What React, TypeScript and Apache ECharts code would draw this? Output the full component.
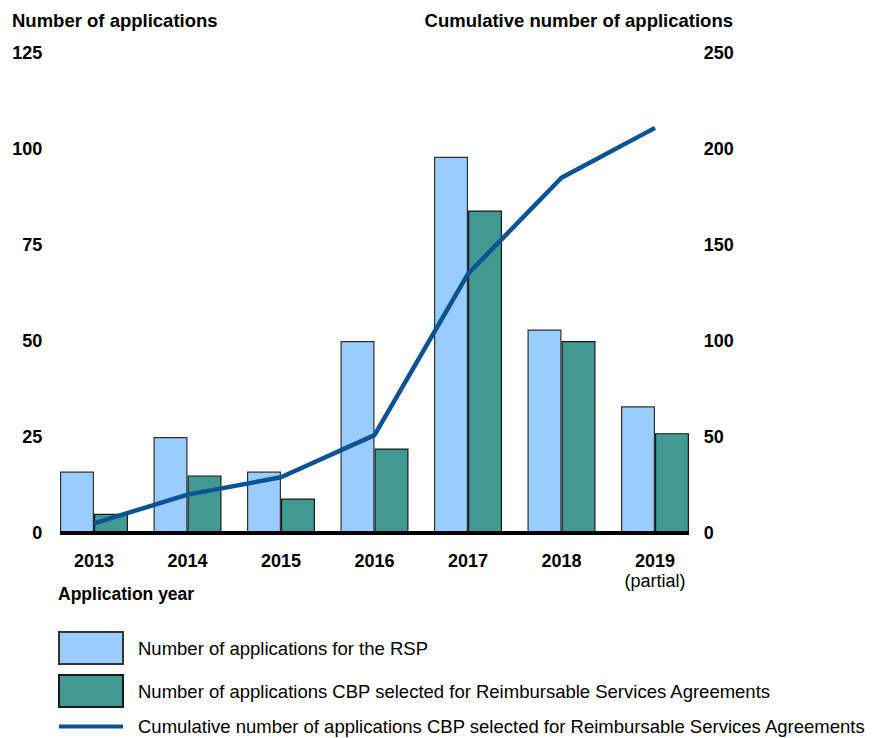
import React, { useEffect, useRef } from "react";
import * as echarts from "echarts";

const categories = ["2013", "2014", "2015", "2016", "2017", "2018", "2019"];
const rspApplications = [16, 25, 16, 50, 98, 53, 33];
const cbpSelected = [5, 15, 9, 22, 84, 50, 26];
const cumulativeSelected = [5, 20, 29, 51, 135, 185, 211];
const partialYear = "2019";

const NAME_RSP = "Number of applications for the RSP";
const NAME_CBP = "Number of applications CBP selected for Reimbursable Services Agreements";
const NAME_CUM = "Cumulative number of applications CBP selected for Reimbursable Services Agreements";

const FONT = "'Liberation Sans', Arial, Helvetica, sans-serif";
const BAR_W = 34;

export default function App() {
  const ref = useRef<HTMLDivElement>(null);

  useEffect(() => {
    if (!ref.current) return;
    const chart = echarts.init(ref.current, null, { renderer: "svg" });
    const option: any = {
      animation: false,
      backgroundColor: "#fff",
      textStyle: { fontFamily: FONT, color: "#000" },
      title: [
        {
          text: "Number of applications",
          left: 12,
          top: 11,
          padding: 0,
          textStyle: { fontFamily: FONT, fontSize: 18.5, fontWeight: "bold", color: "#000" },
        },
        {
          text: "Cumulative number of applications",
          right: 139,
          top: 11,
          padding: 0,
          textStyle: { fontFamily: FONT, fontSize: 18.5, fontWeight: "bold", color: "#000" },
        },
        {
          text: "Application year",
          left: 58,
          top: 585,
          padding: 0,
          textStyle: { fontFamily: FONT, fontSize: 17.5, fontWeight: "bold", color: "#000" },
        },
      ],
      grid: { left: 47.25, right: 170.25, top: 53, bottom: 205, containLabel: false },
      legend: {
        orient: "vertical",
        left: 58,
        top: 631,
        width: 814,
        height: 140,
        padding: 0,
        itemWidth: 64,
        itemHeight: 32,
        itemGap: 9,
        selectedMode: false,
        textStyle: { fontFamily: FONT, fontSize: 18.5, color: "#000", padding: [0, 0, 0, 10] },
        data: [
          { name: NAME_RSP, icon: "rect" },
          { name: NAME_CBP, icon: "rect" },
          {
            name: NAME_CUM,
            icon: "path://M0,0h64v4h-64z",
            itemStyle: { color: "#0B5394", borderWidth: 0 },
          },
        ],
      },
      xAxis: {
        type: "category",
        data: categories,
        axisLine: { show: false },
        axisTick: { show: false },
        splitLine: { show: false },
        axisLabel: {
          interval: 0,
          margin: 18,
          formatter: (v: string) =>
            v === partialYear ? `{y|${v}}\n{p|(partial)}` : `{y|${v}}`,
          rich: {
            y: { fontFamily: FONT, fontSize: 18, fontWeight: "bold", lineHeight: 20, color: "#000" },
            p: { fontFamily: FONT, fontSize: 18, fontWeight: "normal", lineHeight: 20, color: "#000" },
          },
        },
      },
      yAxis: [
        {
          type: "value",
          min: 0,
          max: 125,
          interval: 25,
          position: "left",
          axisLine: { show: false },
          axisTick: { show: false },
          splitLine: { show: false },
          axisLabel: {
            margin: 5,
            fontFamily: FONT,
            fontSize: 18,
            fontWeight: "bold",
            color: "#000",
          },
        },
        {
          type: "value",
          min: 0,
          max: 250,
          interval: 50,
          position: "right",
          axisLine: { show: false },
          axisTick: { show: false },
          splitLine: { show: false },
          axisLabel: {
            margin: 2,
            fontFamily: FONT,
            fontSize: 18,
            fontWeight: "bold",
            color: "#000",
          },
        },
      ],
      series: [
        {
          name: NAME_RSP,
          type: "bar",
          data: rspApplications,
          barWidth: BAR_W,
          barGap: "0%",
          itemStyle: { color: "#99CCFF", borderColor: "#333", borderWidth: 1.2 },
        },
        {
          name: NAME_CBP,
          type: "bar",
          data: cbpSelected,
          barWidth: BAR_W,
          barGap: "0%",
          itemStyle: { color: "#409A91", borderColor: "#1a1a1a", borderWidth: 1.2 },
        },
        {
          name: NAME_CUM,
          type: "line",
          yAxisIndex: 1,
          data: cumulativeSelected,
          symbol: "none",
          smooth: false,
          z: 5,
          itemStyle: { color: "#0B5394" },
          lineStyle: { color: "#0B5394", width: 4.5 },
        },
      ],
    };
    chart.setOption(option);

    const xFirst = chart.convertToPixel({ xAxisIndex: 0 }, categories[0]) as number;
    const xLast = chart.convertToPixel({ xAxisIndex: 0 }, categories[categories.length - 1]) as number;
    const yZero = chart.convertToPixel({ yAxisIndex: 0 }, 0) as number;
    chart.setOption({
      graphic: [
        {
          type: "line",
          z: 100,
          shape: { x1: xFirst - BAR_W, y1: yZero, x2: xLast + BAR_W, y2: yZero },
          style: { stroke: "#000", lineWidth: 4 },
        },
      ],
    });

    return () => chart.dispose();
  }, []);

  return (
    <div
      ref={ref}
      style={{ position: "fixed", left: 0, top: 0, width: 872, height: 738, background: "#fff" }}
    />
  );
}
